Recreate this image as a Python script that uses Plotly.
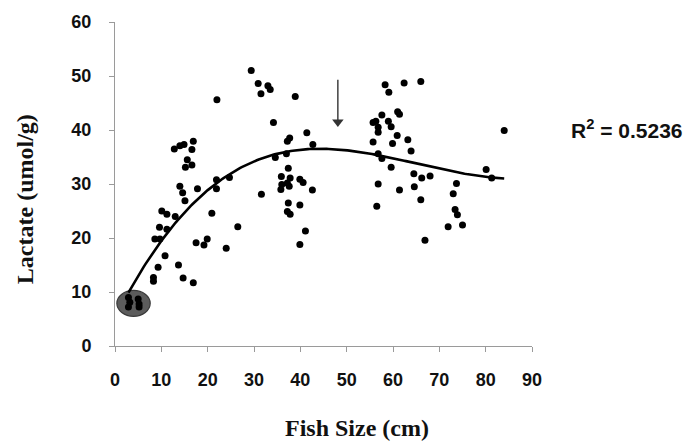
import numpy as np
import plotly.graph_objects as go

# Fish size (cm) and muscle lactate (umol/g) per individual
fish_size = [
    2.9, 3.2, 2.9, 5.0, 5.2, 5.2,
    12.8, 14.0, 14.9, 16.9, 16.6, 15.6, 16.6, 15.2, 14.0, 17.8, 14.6, 15.1,
    10.1, 11.2, 13.0, 20.9, 9.6, 11.2, 8.6, 9.7, 19.9, 17.5, 19.2, 10.8,
    9.3, 13.7, 8.3, 8.3, 14.7, 16.9, 21.9, 21.9, 24.7,
    29.4, 30.9, 33.0, 33.5, 31.5, 38.9, 22.0, 34.2, 37.7, 37.2, 37.0, 34.6,
    37.4, 35.9, 37.8, 36.0, 37.2, 37.6, 35.8, 39.9, 40.6, 42.6, 37.4, 39.9,
    37.2, 37.8, 41.1, 39.9, 31.6, 26.5, 24.0, 41.4, 42.7,
    58.3, 59.1, 62.4, 66.0, 57.6, 56.3, 55.7, 59.0, 61.0, 61.4, 56.8, 56.8,
    59.6, 60.9, 63.2, 55.7, 59.9, 63.9, 56.8, 57.6, 59.6, 64.5, 66.2, 68.0,
    56.8, 61.4, 64.6, 66.0, 56.5, 66.9,
    73.7, 73.0, 73.4, 73.9, 71.9, 75.0, 80.1, 81.3, 84.0,
]
lactate = [
    9.0, 8.1, 7.2, 8.7, 7.8, 7.2,
    36.5, 37.1, 37.3, 37.9, 36.4, 34.5, 33.5, 33.1, 29.6, 29.1, 28.4, 26.9,
    25.0, 24.4, 24.0, 24.6, 22.0, 21.6, 19.8, 19.8, 19.8, 19.1, 18.7, 16.7,
    14.6, 15.0, 12.7, 12.0, 12.6, 11.7, 30.8, 29.1, 31.2,
    51.0, 48.6, 48.2, 47.5, 46.7, 46.2, 45.6, 41.4, 38.5, 37.9, 35.6, 34.9,
    32.9, 31.4, 31.1, 29.9, 30.2, 29.6, 29.0, 30.9, 30.3, 28.9, 26.5, 26.1,
    24.9, 24.4, 21.3, 18.8, 28.1, 22.1, 18.1, 39.5, 37.3,
    48.4, 47.0, 48.7, 49.0, 42.8, 41.6, 41.4, 41.6, 43.4, 42.9, 40.5, 39.6,
    40.6, 39.0, 38.2, 37.8, 37.5, 36.1, 35.6, 34.7, 33.1, 31.9, 31.1, 31.5,
    30.0, 28.9, 29.5, 27.1, 25.9, 19.6,
    30.1, 28.2, 25.3, 24.3, 22.1, 22.4, 32.7, 31.1, 39.9,
]

x_ticks = [0, 10, 20, 30, 40, 50, 60, 70, 80, 90]
y_ticks = [0, 10, 20, 30, 40, 50, 60]
r_squared_text = "R<sup>2</sup> = 0.5236"

# Highlighted smallest-fish group and the marker arrow at the curve's peak
group_box = dict(x0=0.4, x1=7.6, y0=5.5, y1=10.3)
arrow_x, arrow_top, arrow_head = 48.1, 49.3, 41.5

# Third-order polynomial trend through the measurements
xs = np.array(fish_size)
ys = np.array(lactate)
coefs = np.polyfit(xs, ys, 3)
trend_x = np.linspace(xs.min(), xs.max(), 200)
trend_y = np.polyval(coefs, trend_x)

fig = go.Figure()
fig.add_trace(go.Scatter(
    x=trend_x, y=trend_y, mode="lines",
    line=dict(color="black", width=2.6), hoverinfo="skip",
))
fig.add_trace(go.Scatter(
    x=fish_size, y=lactate, mode="markers",
    marker=dict(color="black", size=7, line=dict(width=0)),
))

fig.add_shape(
    type="circle", xref="x", yref="y", layer="below",
    fillcolor="#5c5c5c", line=dict(color="#3a3a3a", width=1.2),
    **group_box,
)

# Downward arrow: shaft plus a triangular head
fig.add_shape(
    type="line", xref="x", yref="y",
    x0=arrow_x, x1=arrow_x, y0=arrow_top, y1=arrow_head,
    line=dict(color="#333333", width=1.4),
)
fig.add_trace(go.Scatter(
    x=[arrow_x], y=[arrow_head], mode="markers", hoverinfo="skip",
    marker=dict(symbol="triangle-down", size=10, color="#333333", line=dict(width=0)),
))

tick_font = dict(family="Liberation Sans, Arial", size=18, color="#111111", weight="bold")
title_font = dict(family="Liberation Serif, Times New Roman", size=24, color="#111111", weight="bold")

fig.add_annotation(
    text=r_squared_text, xref="paper", yref="paper", x=1.089, y=0.669,
    xanchor="left", yanchor="middle", showarrow=False,
    font=dict(family="Liberation Sans, Arial", size=21, color="#111111", weight="bold"),
)
fig.add_annotation(
    text="Fish Size (cm)", xref="paper", yref="paper", x=0.58, y=-0.252,
    xanchor="center", yanchor="middle", showarrow=False, font=title_font,
)
fig.add_annotation(
    text="Lactate (umol/g)", xref="paper", yref="paper", x=-0.216, y=0.453,
    xanchor="center", yanchor="middle", showarrow=False, textangle=-90,
    font=title_font,
)

axis_common = dict(
    showgrid=False, zeroline=False, showline=True, linecolor="#9a9a9a",
    linewidth=1, ticks="outside", ticklen=5, tickcolor="#9a9a9a",
    tickfont=tick_font,
)
fig.update_xaxes(range=[0, 90], tickvals=x_ticks, ticklabelstandoff=12, **axis_common)
fig.update_yaxes(range=[0, 60], tickvals=y_ticks, ticklabelstandoff=14, **axis_common)

fig.update_layout(
    width=688, height=444,
    margin=dict(l=115, r=156, t=17, b=98),
    plot_bgcolor="white", paper_bgcolor="white",
    showlegend=False,
)

fig.write_html("out.html")
